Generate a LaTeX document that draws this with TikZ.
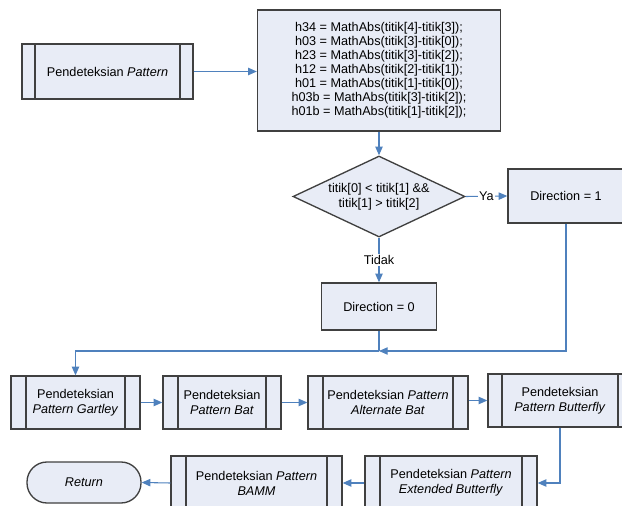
\documentclass[tikz,border=0pt]{standalone}
\usepackage{fontspec}
\setmainfont{Liberation Sans}
\usetikzlibrary{shapes.geometric, arrows.meta}
\definecolor{boxfill}{RGB}{232,236,246}
\definecolor{boxline}{RGB}{64,64,64}
\definecolor{flowblue}{RGB}{79,129,189}
\newdimen\pxu \pxu=0.75pt

\tikzset{
  box/.style={draw=boxline, fill=boxfill, line width=1pt, align=center, inner sep=2pt,
    font=\fontsize{9.5}{11.2}\selectfont},
  subproc/.style={box, path picture={
    \draw[draw=boxline, line width=1pt]
      ([xshift=#1]path picture bounding box.south west) -- ([xshift=#1]path picture bounding box.north west)
      ([xshift=-#1]path picture bounding box.south east) -- ([xshift=-#1]path picture bounding box.north east);}},
  subproc/.default=14\pxu,
  decision/.style={box, diamond, aspect=2.12, inner sep=0pt},
  flow/.style={draw=flowblue, line width=0.8pt, -{Triangle[length=6.5pt, width=5.5pt]}},
  flowline/.style={draw=flowblue, line width=0.8pt},
  lbl/.style={fill=white, inner sep=1pt, font=\fontsize{9.5}{11}\selectfont}
}

\begin{document}
\begin{tikzpicture}[x=0.75pt, y=-0.75pt]
  \useasboundingbox (0,0) rectangle (622,506);

  % Top part
  \node[subproc=13\pxu, minimum width=171\pxu, minimum height=55\pxu] (mulai) at (107.5,71.5)
    {Pendeteksian \textit{Pattern}};
  \node[box, minimum width=243\pxu, minimum height=121\pxu, font=\fontsize{9.5}{10.45}\selectfont] (hitung) at (379,70.5)
    {h34 = MathAbs(titik[4]-titik[3]);\\
     h03 = MathAbs(titik[3]-titik[0]);\\
     h23 = MathAbs(titik[3]-titik[2]);\\
     h12 = MathAbs(titik[2]-titik[1]);\\
     h01 = MathAbs(titik[1]-titik[0]);\\
     h03b = MathAbs(titik[3]-titik[2]);\\
     h01b = MathAbs(titik[1]-titik[2]);};
  \node[decision, minimum width=172\pxu, minimum height=81\pxu] (cek) at (379,196.5)
    {titik[0] < titik[1] \&\&\\ titik[1] > titik[2]};
  \node[box, minimum width=116\pxu, minimum height=54\pxu] (arah1) at (566,196) {Direction = 1};
  \node[box, minimum width=115\pxu, minimum height=47\pxu] (arah0) at (379,306.5) {Direction = 0};
  \coordinate (gabung) at (379,351);

  % Pattern rows
  \node[subproc=15\pxu, minimum width=129\pxu, minimum height=53\pxu] (gartley) at (75.5,402.5)
    {Pendeteksian\\ \textit{Pattern Gartley}};
  \node[subproc=15\pxu, minimum width=118\pxu, minimum height=53\pxu] (bat) at (222,402.5)
    {Pendeteksian\\ \textit{Pattern Bat}};
  \node[subproc=15\pxu, minimum width=160\pxu, minimum height=53\pxu] (altbat) at (388,402.5)
    {Pendeteksian \textit{Pattern}\\ \textit{Alternate Bat}};
  \node[subproc, minimum width=144\pxu, minimum height=53\pxu] (butterfly) at (560,400.5)
    {Pendeteksian\\ \textit{Pattern Butterfly}};
  \node[subproc=15\pxu, minimum width=172\pxu, minimum height=54\pxu] (extbutterfly) at (451,483)
    {Pendeteksian \textit{Pattern}\\ \textit{Extended Butterfly}};
  \node[subproc=15\pxu, minimum width=171\pxu, minimum height=54\pxu] (bamm) at (256.5,483)
    {Pendeteksian \textit{Pattern}\\ \textit{BAMM}};
  \node[box, rounded corners=20\pxu, minimum width=114\pxu, minimum height=41\pxu] (kembali) at (84,482.5)
    {\textit{Return}};

  % Connectors
  \draw[flow] (mulai.east) -- (mulai.east -| hitung.west);
  \draw[flow] (hitung.south) -- (cek.north);
  \draw[flow] (cek.east) -- node[lbl] {Ya} (arah1.west);
  \draw[flow] (cek.south) -- node[lbl] {Tidak} (arah0.north);
  \draw[flowline] (arah0.south) -- (gabung);
  \draw[flow] (arah1.south) |- (gabung);
  \draw[flow] (gabung) -| (gartley.north);
  \draw[flow] (gartley.east) -- (bat.west);
  \draw[flow] (bat.east) -- (altbat.west);
  \draw[flow] (altbat.east |- butterfly.west) -- (butterfly.west);
  \draw[flow] (butterfly.south) |- (extbutterfly.east);
  \draw[flow] (extbutterfly.west) -- (bamm.east);
  \draw[flow] (bamm.west) -- (kembali.east);
\end{tikzpicture}
\end{document}
